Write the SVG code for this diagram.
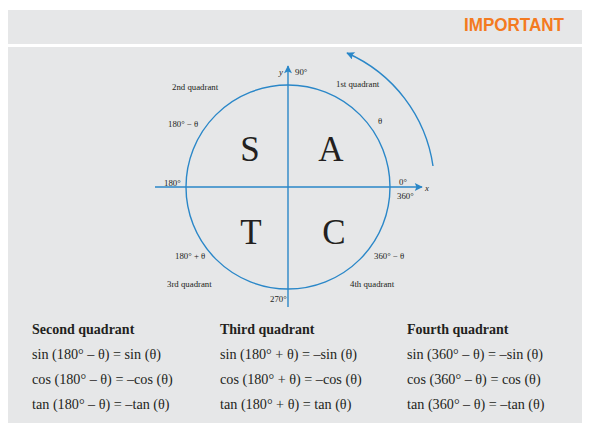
<svg xmlns="http://www.w3.org/2000/svg" width="591" height="434" viewBox="0 0 591 434">
<defs>
<marker id="ah" viewBox="0 0 10 10" refX="9" refY="5" markerWidth="10" markerHeight="8" markerUnits="userSpaceOnUse" orient="auto">
<path d="M0,0 L10,5 L0,10 L2,5 Z" fill="#2a87c8"/>
</marker>
<style>
.bl{stroke:#2a87c8;stroke-width:1.4;fill:none}
.sm{font-family:"Liberation Serif",serif;font-size:8.8px;fill:#231f20}
.big{font-family:"Liberation Serif",serif;font-size:35px;fill:#231f20}
.eq{font-family:"Liberation Serif",serif;font-size:14.2px;fill:#231f20}
.hd{font-family:"Liberation Serif",serif;font-size:14px;font-weight:bold;fill:#231f20}
</style>
</defs>
<rect width="591" height="434" fill="#ffffff"/>
<rect x="8" y="10" width="574" height="34" fill="#e6e7e8"/>
<rect x="8" y="47" width="574" height="376" fill="#e6e7e8"/>
<text x="564" y="31" text-anchor="end" font-family="Liberation Sans,sans-serif" font-weight="bold" font-size="18" fill="#f47a20" textLength="100" lengthAdjust="spacingAndGlyphs">IMPORTANT</text>
<g id="connectors">
<circle class="bl" cx="288" cy="187" r="102"/>
<line class="bl" x1="155" y1="187" x2="422" y2="187" marker-end="url(#ah)"/>
<line class="bl" x1="288" y1="307" x2="288" y2="66" marker-end="url(#ah)"/>
<path class="bl" d="M433,166 A146.5,146.5 0 0 0 347,53" marker-end="url(#ah)"/>
</g>
<g id="labels">
<text class="sm" x="172" y="90">2nd quadrant</text>
<text class="sm" x="168" y="127">180° − θ</text>
<text class="sm" x="164" y="186">180°</text>
<text class="sm" x="336" y="87">1st quadrant</text>
<text class="sm" x="378" y="124">θ</text>
<text class="sm" x="399" y="185">0°</text>
<text class="sm" x="397" y="199">360°</text>
<text class="sm" x="425" y="191" font-style="italic">x</text>
<text class="sm" x="279" y="75" font-style="italic">y</text>
<text class="sm" x="295" y="75">90°</text>
<text class="sm" x="175" y="259">180° + θ</text>
<text class="sm" x="167" y="287">3rd quadrant</text>
<text class="sm" x="270" y="302">270°</text>
<text class="sm" x="374" y="259">360° − θ</text>
<text class="sm" x="350" y="287">4th quadrant</text>
</g>
<g id="node-S"><text class="big" x="250" y="161" text-anchor="middle">S</text></g>
<g id="node-A"><text class="big" x="331" y="161" text-anchor="middle">A</text></g>
<g id="node-T"><text class="big" x="251" y="244" text-anchor="middle">T</text></g>
<g id="node-C"><text class="big" x="334" y="244" text-anchor="middle">C</text></g>
<g id="second">
<text class="hd" x="32" y="334">Second quadrant</text>
<text class="eq" x="32" y="359">sin (180° – θ) = sin (θ)</text>
<text class="eq" x="32" y="384">cos (180° – θ) = –cos (θ)</text>
<text class="eq" x="32" y="409">tan (180° – θ) = –tan (θ)</text>
</g>
<g id="third">
<text class="hd" x="220" y="334">Third quadrant</text>
<text class="eq" x="220" y="359">sin (180° + θ) = –sin (θ)</text>
<text class="eq" x="220" y="384">cos (180° + θ) = –cos (θ)</text>
<text class="eq" x="220" y="409">tan (180° + θ) = tan (θ)</text>
</g>
<g id="fourth">
<text class="hd" x="407" y="334">Fourth quadrant</text>
<text class="eq" x="407" y="359">sin (360° – θ) = –sin (θ)</text>
<text class="eq" x="407" y="384">cos (360° – θ) = cos (θ)</text>
<text class="eq" x="407" y="409">tan (360° – θ) = –tan (θ)</text>
</g>
</svg>
